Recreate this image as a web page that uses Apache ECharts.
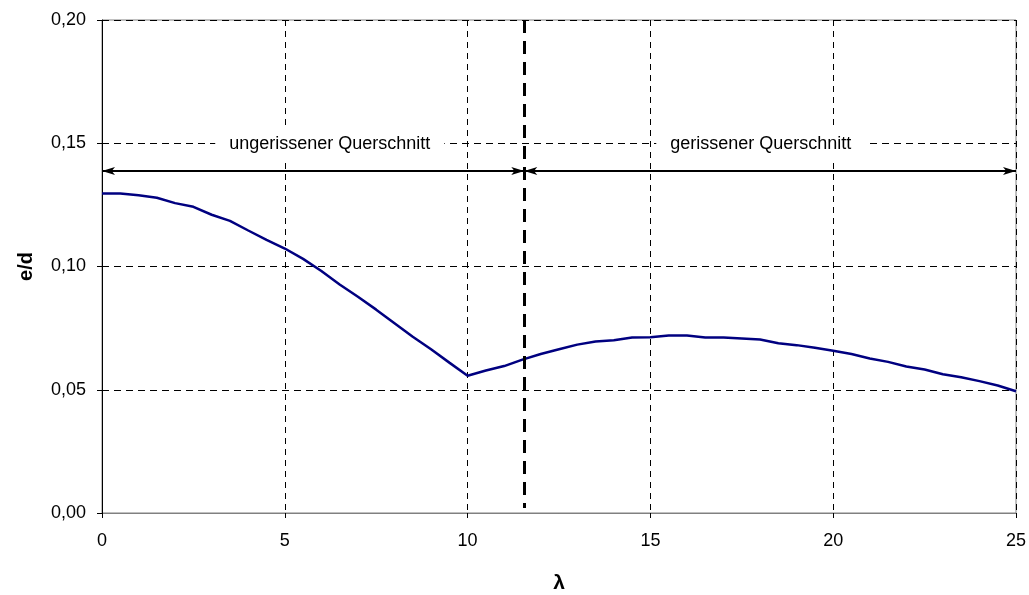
<!DOCTYPE html>
<html><head><meta charset="utf-8">
<script src="https://cdn.jsdelivr.net/npm/echarts@6/dist/echarts.min.js"></script>
<style>html,body{margin:0;padding:0;background:#fff}#c{width:1029px;height:595px}</style>
</head><body><div id="c"></div>
<script>
const lambda = [0,0.5,1,1.5,2,2.5,3,3.5,4,4.5,5,5.5,6,6.5,7,7.5,8,8.5,9,9.5,10,10.5,11,11.5,12,12.5,13,13.5,14,14.5,15,15.5,16,16.5,17,17.5,18,18.5,19,19.5,20,20.5,21,21.5,22,22.5,23,23.5,24,24.5,25];
const eD = [0.1296,0.1296,0.1289,0.1279,0.1257,0.1242,0.1210,0.1185,0.1146,0.1108,0.1073,0.1031,0.0982,0.0927,0.0877,0.0825,0.0770,0.0715,0.0664,0.0610,0.0557,0.0578,0.0596,0.0622,0.0645,0.0664,0.0683,0.0696,0.0701,0.0712,0.0713,0.0720,0.0720,0.0712,0.0712,0.0708,0.0704,0.0689,0.0681,0.0670,0.0658,0.0645,0.0627,0.0613,0.0594,0.0582,0.0563,0.0551,0.0535,0.0517,0.0494];
const dividerLambda = 11.55;
const arrowY = 0.1387;
const labelY = 0.1495;
const regionLabels = ["ungerissener Querschnitt", "gerissener Querschnitt"];
const regionLabelX = [6.23, 18.02];
const xName = "λ", yName = "e/d";

const chart = echarts.init(document.getElementById('c'));
const font = "'Liberation Sans', Arial, sans-serif";
chart.setOption({
  animation: false,
  grid: {left: 102, right: 13, top: 20, bottom: 82, show: true, borderColor: '#808080', borderWidth: 1,
         containLabel: false, outerBoundsMode: 'none'},
  xAxis: {
    type: 'value', min: 0, max: 25, interval: 5,
    name: xName, nameLocation: 'middle', nameGap: 60,
    nameTextStyle: {fontFamily: font, fontWeight: 'bold', fontSize: 21, color: '#000'},
    axisLine: {show: true, onZero: false, lineStyle: {color: '#808080', width: 1}},
    axisTick: {show: true, length: 5, lineStyle: {color: '#000'}},
    axisLabel: {fontFamily: font, fontSize: 18, color: '#000', margin: 19},
    splitLine: {show: true, lineStyle: {color: '#000', width: 1, type: [6, 5]}}
  },
  yAxis: {
    type: 'value', min: 0, max: 0.2, interval: 0.05,
    name: yName, nameLocation: 'middle', nameGap: 66, nameRotate: 90,
    nameTextStyle: {fontFamily: font, fontWeight: 'bold', fontSize: 20, color: '#000'},
    axisLine: {show: true, lineStyle: {color: '#000', width: 1}},
    axisTick: {show: true, length: 5, lineStyle: {color: '#000'}},
    axisLabel: {fontFamily: font, fontSize: 18, color: '#000', margin: 16,
      formatter: v => v.toFixed(2).replace('.', ',')},
    splitLine: {show: true, lineStyle: {color: '#000', width: 1, type: [7, 5]}}
  },
  series: [{
    type: 'line',
    data: lambda.map((x, i) => [x, eD[i]]),
    symbol: 'none',
    lineStyle: {color: '#000080', width: 2.5},
    silent: true,
    z: 3,
    markPoint: {
      silent: true,
      symbol: 'rect', symbolSize: 0,
      label: {show: true, position: 'inside', fontFamily: font, fontSize: 18, color: '#000',
        backgroundColor: '#fff', padding: [8, 14]},
      data: regionLabels.map((t, i) => ({coord: [regionLabelX[i], labelY], value: t,
        label: {formatter: t}}))
    },
    markLine: {
      silent: true,
      animation: false,
      label: {show: false},
      emphasis: {disabled: true},
      data: [
        [{coord: [0, arrowY], symbol: 'arrow', symbolSize: [6, 13], lineStyle: {color: '#000', width: 2, type: 'solid'}},
         {coord: [dividerLambda, arrowY], symbol: 'arrow', symbolSize: [6, 13]}],
        [{coord: [dividerLambda, arrowY], symbol: 'arrow', symbolSize: [6, 13], lineStyle: {color: '#000', width: 2, type: 'solid'}},
         {coord: [25, arrowY], symbol: 'arrow', symbolSize: [6, 13]}],
        [{coord: [dividerLambda, 0.2], symbol: 'none', lineStyle: {color: '#000', width: 3, type: [13, 8]}},
         {coord: [dividerLambda, 0.002], symbol: 'none'}]
      ]
    }
  }]
});
</script></body></html>
